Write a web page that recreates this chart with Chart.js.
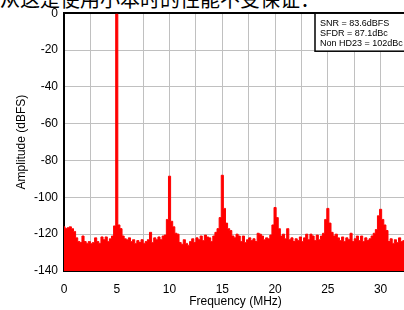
<!DOCTYPE html>
<html>
<head>
<meta charset="utf-8">
<script src="https://cdn.jsdelivr.net/npm/chart.js@4/dist/chart.umd.min.js"></script>
<style>
	html, body { margin: 0; padding: 0; background: #fff; overflow: hidden; width: 404px; height: 310px; }
	#caption { position: absolute; left: 0; top: -11px; font: 20px/20px "Noto Sans CJK SC", sans-serif; color: #000; white-space: nowrap; }
	#wrap { position: absolute; left: 0; top: 0; }
</style>
</head>
<body>
<div id="caption">从这是使用小本时的性能不受保证：</div>
<div id="wrap"><canvas id="fft_chart" width="418" height="310"></canvas></div>
<script>
// FFT spectrum, one value per 0.2 MHz bin (dBFS)
var binMHz = 0.2,
	amplitude = [
		-116, -117, -116.5, -116, -117, -118.5, -122, -124, -124.5, -121,
		-124, -125, -124, -125, -124.5, -122, -124, -125, -121.5, -123,
		-121.5, -124, -122.5, -121, -115.5, -0.5, -115, -117, -121, -122.5,
		-123, -122, -124, -123, -125, -123.5, -124.5, -123, -125, -124,
		-123, -119, -124.5, -122, -123, -121.5, -123, -121, -120.5, -112,
		-88.5, -113, -116, -119.5, -120, -124.5, -125.5, -123, -125, -126,
		-124, -122.5, -124.5, -122, -123, -121, -123.5, -120.5, -121.5, -122,
		-124, -121, -119, -117, -111, -88, -106, -114, -117, -118,
		-121, -122, -120, -121, -124, -121, -124.5, -123, -122, -123.5,
		-122.5, -124, -119.5, -120, -121, -123, -122, -122.5, -120.5, -115,
		-105.5, -111, -117, -121, -120, -122.5, -117, -123, -122, -124,
		-122.5, -123.5, -121.5, -124, -122, -120, -123, -120, -121, -123.5,
		-120.5, -123, -121, -119.5, -112, -106, -114, -119, -121, -120,
		-122, -123.5, -121.5, -124, -122, -123, -119.5, -124, -122.5, -121,
		-123.5, -121, -124, -122, -123.5, -122.5, -121, -119.5, -117.5, -110,
		-106.5, -112, -115, -118, -124, -122.5, -125, -123, -124.5, -122,
		-124, -123.5, -124
	],
	yTicks = [0, -20, -40, -60, -80, -100, -120, -140],
	xLabelStep = 5,
	stats = ['SNR = 83.6dBFS', 'SFDR = 87.1dBc', 'Non HD23 = 102dBc'];

var points = amplitude.map(function(v, i) {
	return { x: i * binMHz, y: v };
});

Chart.defaults.font.family = '"Liberation Sans", Arial, sans-serif';
Chart.defaults.font.size = 12;
Chart.defaults.color = '#000';

// boxed text in the top right corner of the plot
var statsBox = {
	id: 'statsBox',
	afterDraw: function(chart) {
		const { ctx, chartArea } = chart;
		const w = 92, h = 38;
		const x = chartArea.right - w, y = chartArea.top;

		ctx.save();
		ctx.fillStyle = '#fff';
		ctx.fillRect(x, y, w, h);
		ctx.strokeStyle = '#000';
		ctx.lineWidth = 1.5;
		ctx.strokeRect(x, y, w, h);
		ctx.fillStyle = '#000';
		ctx.font = '9px "Liberation Sans", Arial, sans-serif';
		ctx.textBaseline = 'middle';
		for (let i = 0; i < stats.length; ++i) {
			ctx.fillText(stats[i], x + 5, y + 10.5 + i * 10);
		}
		ctx.restore();
	}
};

var config = {
	type: 'line',
	data: {
		datasets: [{
			data: points,
			borderColor: '#ff0000',
			backgroundColor: '#ff0000',
			borderWidth: 1,
			pointRadius: 0,
			stepped: 'middle',
			fill: 'start'
		}]
	},
	options: {
		responsive: false,
		animation: false,
		layout: { padding: { left: 14, top: 13, right: 4, bottom: 0 } },
		plugins: {
			legend: { display: false },
			tooltip: { enabled: false }
		},
		scales: {
			x: {
				type: 'linear',
				min: 0,
				max: 32.5,
				afterFit: function(scale) { scale.height = 39; },
				ticks: {
					stepSize: 2.5,
					padding: 11,
					maxRotation: 0,
					callback: function(v) {
						return v % xLabelStep === 0 ? v : '';
					}
				},
				grid: { color: '#c0c0c0', lineWidth: 1, drawTicks: false },
				border: { color: '#000', width: 2 },
				title: { display: true, text: 'Frequency (MHz)', padding: { top: 0, bottom: 1 } }
			},
			y: {
				min: yTicks[yTicks.length - 1],
				max: yTicks[0],
				afterFit: function(scale) { scale.width = 50; },
				afterBuildTicks: function(scale) {
					scale.ticks = yTicks.map(function(v) { return { value: v }; });
				},
				ticks: { padding: 6 },
				grid: {
					drawTicks: false,
					color: function(c) { return c.tick && c.tick.value === 0 ? '#000' : '#c0c0c0'; },
					lineWidth: function(c) { return c.tick && c.tick.value === 0 ? 2 : 1; }
				},
				border: { color: '#000', width: 2 },
				title: { display: true, text: 'Amplitude (dBFS)', padding: { top: 0, bottom: 0 } }
			}
		}
	},
	plugins: [statsBox]
};

new Chart(document.getElementById('fft_chart').getContext('2d'), config);
</script>
</body>
</html>
